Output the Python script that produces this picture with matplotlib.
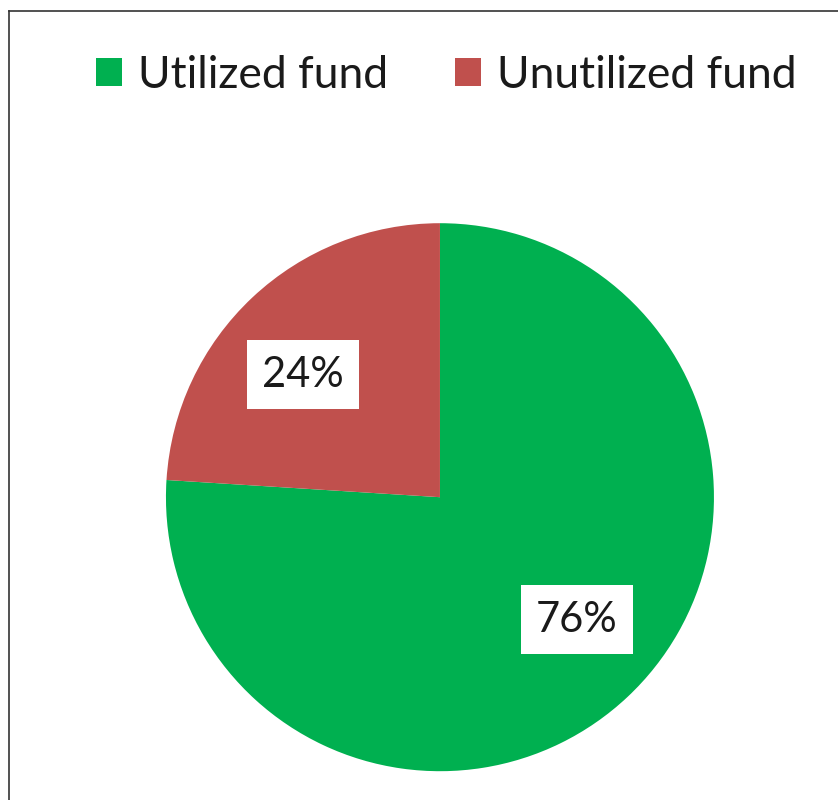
import numpy as np
import matplotlib
matplotlib.use("Agg")
import matplotlib.pyplot as plt
from matplotlib.lines import Line2D
from matplotlib.patches import Patch

labels = ["Utilized fund", "Unutilized fund"]
shares = [76, 24]
colors = ["#00B050", "#C0504D"]

plt.rcParams['font.family'] = ['Lato', 'DejaVu Sans']

fig = plt.figure(figsize=(8.38, 8.0), dpi=100)
fig.patch.set_facecolor("white")

# chart frame (only left and top edges visible in the crop)
fig.add_artist(Line2D([9/838, 9/838], [0, 1 - 11/800], color="#333333", lw=1.2))
fig.add_artist(Line2D([9/838, 1], [1 - 11/800, 1 - 11/800], color="#333333", lw=1.2))

ax = fig.add_axes([0.198, 0.036, 0.654, 0.685])
wedges, texts, autotexts = ax.pie(
    shares, colors=colors, startangle=90, counterclock=False,
    autopct="%d%%", pctdistance=0.67, radius=1,
    wedgeprops=dict(linewidth=0),
    textprops=dict(fontsize=30, color="#1a1a1a"),
)
# labels sit a little counter-clockwise of each wedge's middle
for w, t in zip(wedges, autotexts):
    mid = np.deg2rad((w.theta1 + w.theta2) / 2 + 5)
    t.set_position((0.67 * np.cos(mid), 0.67 * np.sin(mid)))
    t.set_bbox(dict(facecolor="white", edgecolor="none", pad=11))
ax.set_xlim(-1.0, 1.0)
ax.set_ylim(-1.0, 1.0)
ax.set_aspect("equal")

handles = [Patch(facecolor=c, edgecolor="none") for c in colors]
fig.legend(handles, labels, loc="center", bbox_to_anchor=(446/838, 1 - 75/800),
           ncol=2, frameon=False, fontsize=32, handlelength=0.6, handleheight=0.6,
           handletextpad=0.35, columnspacing=1.5, labelcolor="#1a1a1a")

fig.savefig("out.png", dpi=100)
